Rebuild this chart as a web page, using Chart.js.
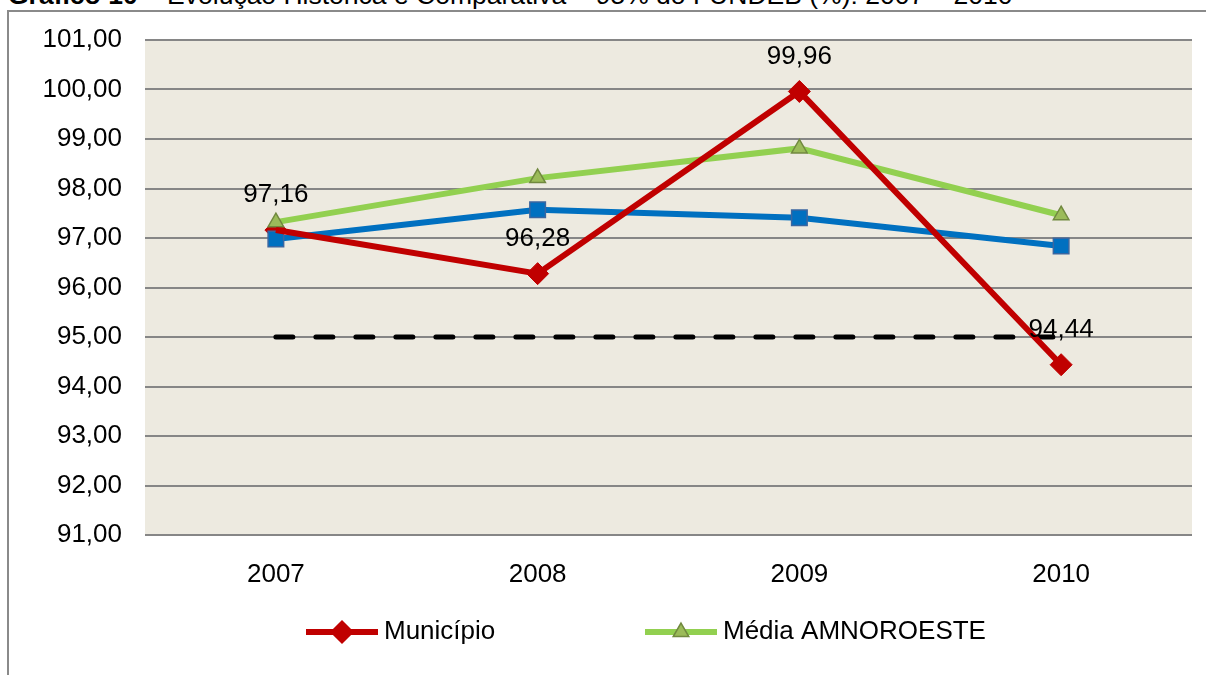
<!DOCTYPE html>
<html>
<head>
<meta charset="utf-8">
<script src="https://cdn.jsdelivr.net/npm/chart.js@4.4.1/dist/chart.umd.min.js"></script>
<style>
  body { margin: 0; background: #fff; overflow: hidden; }
  #wrap { position: relative; width: 1206px; height: 675px; }
  #titulo { position: absolute; left: 8px; top: -20px; font: 26.5px/30px "Liberation Sans", Arial, sans-serif; white-space: nowrap; color: #000; }
  #caixa { position: absolute; left: 7px; top: 10px; width: 1210px; height: 700px; border-left: 2px solid #8a8a8a; border-top: 2px solid #8a8a8a; }
  canvas { position: absolute; left: 0; top: 0; }
</style>
</head>
<body>
<div id="wrap">
  <div id="titulo"><b>Gráfico 10</b> – Evolução Histórica e Comparativa – 95% do FUNDEB (%): 2007 – 2010</div>
  <div id="caixa"></div>
  <canvas id="grafico" width="1206" height="675"></canvas>
</div>
<script>
// dados
const anos = ['2007', '2008', '2009', '2010'];
const municipio = [97.16, 96.28, 99.96, 94.44];
const mediaAmnoroeste = [97.32, 98.21, 98.81, 97.46];
const mediaEstado = [96.98, 97.57, 97.41, 96.84];
const meta = [95, 95, 95, 95];

const fonte = '"Liberation Sans", Arial, sans-serif';
const raioLosango = 11;

function formata(v) {
    return v.toFixed(2).replace('.', ',');
}

// fundo da área do gráfico
const fundoPlugin = {
    id: 'fundo',
    beforeDraw(chart) {
        const { ctx, chartArea } = chart;
        ctx.save();
        ctx.fillStyle = '#EDEAE0';
        ctx.fillRect(chartArea.left, chartArea.top, chartArea.right - chartArea.left, chartArea.bottom - chartArea.top);
        ctx.restore();
    }
};

// losangos do município ficam por baixo das outras séries (como no Excel),
// mas a linha vermelha fica por cima
const marcadoresPlugin = {
    id: 'marcadores',
    beforeDatasetsDraw(chart) {
        const ctx = chart.ctx;
        ctx.save();
        ctx.fillStyle = '#C00000';
        ctx.strokeStyle = '#C00000';
        ctx.lineWidth = 1;
        chart.getDatasetMeta(0).data.forEach(p => {
            Chart.helpers.drawPoint(ctx, { pointStyle: 'rectRot', radius: raioLosango, borderWidth: 1 }, p.x, p.y);
        });
        ctx.restore();
    }
};

// rótulos só da série do município
const rotulosPlugin = {
    id: 'rotulos',
    afterDatasetsDraw(chart) {
        const ctx = chart.ctx;
        const meta0 = chart.getDatasetMeta(0);
        ctx.save();
        ctx.font = '26px ' + fonte;
        ctx.fillStyle = '#000';
        ctx.textAlign = 'center';
        ctx.textBaseline = 'middle';
        meta0.data.forEach((p, i) => {
            ctx.fillText(formata(municipio[i]), p.x, p.y - 35);
        });
        ctx.restore();
    }
};

// legenda desenhada à mão (linha + marcador)
const legendaPlugin = {
    id: 'legenda',
    afterDraw(chart) {
        const ctx = chart.ctx;
        const itens = [
            { ds: 0, x: 306, estilo: 'rectRot', raio: raioLosango, fundo: '#C00000', borda: '#C00000' },
            { ds: 1, x: 645, estilo: 'triangle', raio: 9, fundo: '#9BBB59', borda: '#71893F' }
        ];
        const y = 632;
        ctx.save();
        itens.forEach(it => {
            const d = chart.data.datasets[it.ds];
            ctx.strokeStyle = d.borderColor;
            ctx.lineWidth = 6;
            ctx.beginPath();
            ctx.moveTo(it.x, y);
            ctx.lineTo(it.x + 72, y);
            ctx.stroke();
            ctx.fillStyle = it.fundo;
            ctx.strokeStyle = it.borda;
            ctx.lineWidth = 1.5;
            Chart.helpers.drawPoint(ctx, { pointStyle: it.estilo, radius: it.raio, borderWidth: 1.5 }, it.x + 36, y);
            ctx.fillStyle = '#000';
            ctx.font = '26px ' + fonte;
            ctx.textBaseline = 'middle';
            ctx.fillText(d.label, it.x + 78, y);
        });
        ctx.restore();
    }
};

new Chart(document.getElementById('grafico'), {
    type: 'line',
    data: {
        labels: anos,
        datasets: [{
            label: 'Município',
            data: municipio,
            borderColor: '#C00000',
            borderWidth: 6,
            pointRadius: 0,
            order: 1
        }, {
            label: 'Média AMNOROESTE',
            data: mediaAmnoroeste,
            borderColor: '#92D050',
            borderWidth: 6,
            pointStyle: 'triangle',
            pointRadius: 9,
            pointBackgroundColor: '#9BBB59',
            pointBorderColor: '#71893F',
            pointBorderWidth: 1.5,
            order: 3
        }, {
            label: 'Média Estadual',
            data: mediaEstado,
            borderColor: '#0070C0',
            borderWidth: 6,
            pointStyle: 'rect',
            pointRadius: 11,
            pointBackgroundColor: '#0070C0',
            pointBorderColor: '#3A66A0',
            pointBorderWidth: 1.5,
            order: 4
        }, {
            label: 'Meta 95%',
            data: meta,
            borderColor: '#000',
            borderWidth: 5,
            borderDash: [17, 23],
            borderCapStyle: 'round',
            pointRadius: 0,
            order: 2
        }]
    },
    options: {
        responsive: false,
        devicePixelRatio: 1,
        animation: false,
        layout: { padding: { top: 40, right: 14, left: 0, bottom: 0 } },
        plugins: {
            legend: { display: false },
            tooltip: { enabled: false }
        },
        scales: {
            x: {
                offset: true,
                grid: { display: false },
                border: { display: false },
                ticks: { color: '#000', font: { family: fonte, size: 26 }, padding: 16 },
                afterFit(scale) { scale.height = 140; }
            },
            y: {
                min: 91,
                max: 101,
                grid: { color: '#868686', lineWidth: 2, drawTicks: false },
                border: { display: false },
                ticks: {
                    stepSize: 1,
                    color: '#000',
                    padding: 23,
                    font: { family: fonte, size: 26 },
                    callback: v => formata(v)
                },
                afterFit(scale) { scale.width = 145; }
            }
        }
    },
    plugins: [fundoPlugin, marcadoresPlugin, rotulosPlugin, legendaPlugin]
});
</script>
</body>
</html>
